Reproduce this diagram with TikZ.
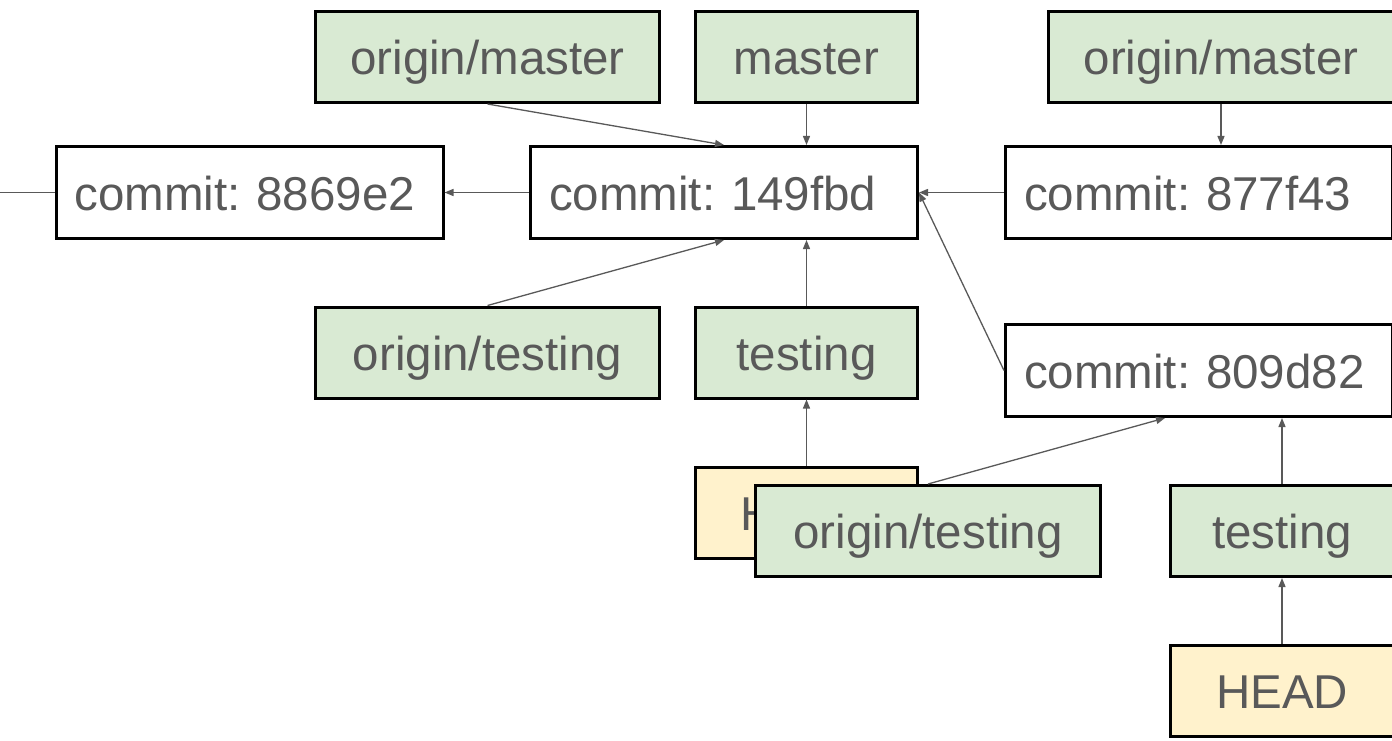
\documentclass[tikz,border=0pt]{standalone}
\usepackage{xcolor}
\usepackage{fontspec}
\setmainfont{Liberation Sans}
\usetikzlibrary{arrows.meta, positioning}

\definecolor{branchgreen}{HTML}{D9EAD3}
\definecolor{headyellow}{HTML}{FFF2CC}
\definecolor{textgray}{HTML}{595959}

\begin{document}
\frenchspacing
\begin{tikzpicture}[x=1pt, y=-1pt,
    box/.style={rectangle, draw=black, line width=3pt, fill=branchgreen, minimum height=91pt, text=textgray, font=\fontsize{47.5}{56}\selectfont, text height=42pt, text depth=7pt, text centered},
    commit/.style={box, fill=white, text width=350pt, inner xsep=18.5pt, align=left, minimum height=92pt},
    head/.style={box, fill=headyellow},
    arrow/.style={-{Triangle[length=9pt, width=7pt]}, line width=1.3pt, draw=textgray}
]
\useasboundingbox (0,0) rectangle (1392,741);

% Define nodes
\node[commit] (c8869) at (249.5,192.5) {commit: 8869e2};
\node[commit] (c149) at (724,192.5) {commit: 149fbd};
\node[commit] (c877) at (1199,192.5) {commit: 877f43};
\node[commit] (c809) at (1199,370.5) {commit: 809d82};
\coordinate (older) at (0,192.5);

% Branch labels
\node[box, minimum width=344pt] (omL) at (487.5,57) {origin/master};
\node[box, minimum width=222pt] (masterL) at (806.5,57) {master};
\node[box, minimum width=345pt] (omR) at (1221,57) {origin/master};
\node[box, minimum width=344pt] (otL) at (487.5,352.5) {origin/testing};
\node[box, minimum width=222pt] (testL) at (806.5,352.5) {testing};
\node[head, minimum width=222pt] (headL) at (806.5,512.5) {HEAD};
\node[box, minimum width=345pt] (otB) at (928,531) {origin/testing};
\node[box, minimum width=223pt] (testR) at (1282,531) {testing};
\node[head, minimum width=223pt] (headR) at (1282,691) {HEAD};

% Draw arrows
\draw[line width=1.3pt, draw=textgray] (c8869) -- (older);
\draw[arrow] (c149) -- (c8869);
\draw[arrow] (c877) -- (c149);
\draw[arrow] (c809.west) -- (c149.east);

\draw[arrow] (omL.south) -- (c149.north);
\draw[arrow] (masterL) -- (c149.north -| masterL);
\draw[arrow] (otL.north) -- (c149.south);
\draw[arrow] (testL) -- (c149.south -| testL);
\draw[arrow] (headL) -- (testL);

\draw[arrow] (omR) -- (c877.north -| omR);
\draw[arrow] (otB.north) -- ([xshift=-34pt]c809.south);
\draw[arrow] (testR) -- (c809.south -| testR);
\draw[arrow] (headR) -- (testR);

\end{tikzpicture}
\end{document}
